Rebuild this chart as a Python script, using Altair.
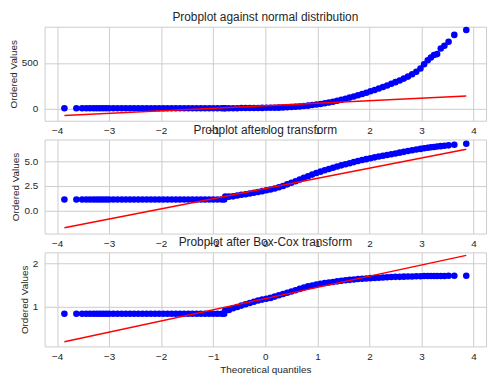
import altair as alt
import pandas as pd

# Theoretical quantiles
quantiles = [
    -3.86, -3.63, -3.52, -3.44, -3.37, -3.30, -3.24, -3.18, -3.12, -3.06, -3.00,
    -2.92, -2.84, -2.76, -2.68, -2.60, -2.52, -2.44, -2.36, -2.28, -2.20, -2.12,
    -2.04, -1.96, -1.88, -1.80, -1.72, -1.64, -1.56, -1.48, -1.40, -1.32, -1.24,
    -1.16, -1.08, -1.00, -0.92, -0.84, -0.79,
    -0.77, -0.70, -0.62, -0.54, -0.46, -0.38, -0.30, -0.22, -0.14, -0.06,
    0.02, 0.10, 0.18, 0.26, 0.34, 0.42, 0.50, 0.58, 0.66, 0.74, 0.82, 0.90,
    0.98, 1.06, 1.14, 1.22, 1.30, 1.38, 1.46, 1.54, 1.62, 1.70, 1.78, 1.86,
    1.94, 2.02, 2.10, 2.18, 2.26, 2.34, 2.42, 2.50, 2.58, 2.66, 2.74, 2.82,
    2.90, 2.98,
    3.05, 3.12, 3.18, 3.24, 3.30, 3.37, 3.44, 3.52, 3.63, 3.86,
]

# Ordered values, raw data
normal_vals = [
    3, 3, 3, 3, 3, 3, 3, 3, 3, 3, 3,
    3, 3, 3, 3, 3, 3, 3, 3, 3, 3, 3,
    3, 3, 3, 3, 3, 3, 3, 3, 3, 3, 3,
    3, 3, 3, 3, 3, 3,
    4, 4, 4, 4, 5, 5, 5, 6, 6, 7,
    8, 8, 9, 10, 12, 14, 16, 19, 23, 27, 32, 38,
    44, 50, 58, 66, 75, 85, 96, 108, 120, 133, 146, 160,
    174, 189, 204, 220, 237, 254, 272, 290, 309, 329, 351, 376,
    405, 440,
    486, 530, 560, 588, 598, 660, 690, 733, 809, 863,
]

# Ordered values after log transform
log_vals = [
    1.10, 1.10, 1.10, 1.10, 1.10, 1.10, 1.10, 1.10, 1.10, 1.10, 1.10,
    1.10, 1.10, 1.10, 1.10, 1.10, 1.10, 1.10, 1.10, 1.10, 1.10, 1.10,
    1.10, 1.10, 1.10, 1.10, 1.10, 1.10, 1.10, 1.10, 1.10, 1.10, 1.10,
    1.10, 1.10, 1.10, 1.10, 1.10, 1.10,
    1.39, 1.39, 1.42, 1.50, 1.58, 1.64, 1.71, 1.79, 1.87, 1.95,
    2.04, 2.12, 2.21, 2.34, 2.48, 2.64, 2.80, 2.96, 3.13, 3.30, 3.46, 3.63,
    3.79, 3.93, 4.07, 4.20, 4.33, 4.45, 4.57, 4.68, 4.79, 4.90, 5.01, 5.11,
    5.20, 5.29, 5.38, 5.46, 5.54, 5.62, 5.70, 5.78, 5.86, 5.94, 6.02, 6.10,
    6.17, 6.24,
    6.30, 6.36, 6.40, 6.44, 6.48, 6.52, 6.56, 6.60, 6.67, 6.77,
]

# Ordered values after Box-Cox transform
boxcox_vals = [
    0.83, 0.83, 0.83, 0.83, 0.83, 0.83, 0.83, 0.83, 0.83, 0.83, 0.83,
    0.83, 0.83, 0.83, 0.83, 0.83, 0.83, 0.83, 0.83, 0.83, 0.83, 0.83,
    0.83, 0.83, 0.83, 0.83, 0.83, 0.83, 0.83, 0.83, 0.83, 0.83, 0.83,
    0.83, 0.83, 0.83, 0.83, 0.83, 0.83,
    0.91, 0.92, 0.96, 0.99, 1.02, 1.05, 1.08, 1.11, 1.14, 1.16,
    1.18, 1.20, 1.23, 1.26, 1.29, 1.32, 1.35, 1.38, 1.41, 1.44, 1.47, 1.49,
    1.51, 1.53, 1.545, 1.56, 1.57, 1.585, 1.60, 1.61, 1.62, 1.63, 1.64, 1.645,
    1.65, 1.66, 1.665, 1.67, 1.675, 1.68, 1.685, 1.69, 1.69, 1.695, 1.70, 1.70,
    1.705, 1.705,
    1.71, 1.71, 1.71, 1.71, 1.712, 1.712, 1.712, 1.714, 1.714, 1.714,
]

# Fitted least-squares lines (end points)
line_x = [-3.86, 3.86]
normal_line = [-76, 138]
log_line = [-1.76, 6.20]
boxcox_line = [0.18, 2.19]

titles = [
    "Probplot against normal distribution",
    "Probplot after log transform",
    "Probplot after Box-Cox transform",
]
y_domains = [[-134, 899], [-2.36, 7.19], [0.07, 2.26]]
y_ticks = [[0, 500], [0.0, 2.5, 5.0], [1, 2]]
y_formats = ["d", ".1f", "d"]
x_ticks = [-4, -3, -2, -1, 0, 1, 2, 3, 4]

FONT = "Liberation Sans"
TEXT = "#262626"


def panel(vals, line_vals, title, domain, ticks, fmt, last):
    pts = pd.DataFrame({"q": quantiles, "v": vals})
    ln = pd.DataFrame({"q": line_x, "v": line_vals})
    if last:
        xaxis = alt.Axis(values=x_ticks, title="Theoretical quantiles", format="d")
    else:
        xaxis = alt.Axis(values=x_ticks, title=None, format="d")
    x = alt.X("q:Q", scale=alt.Scale(domain=[-4.24, 4.24], nice=False, zero=False), axis=xaxis)
    y = alt.Y("v:Q", scale=alt.Scale(domain=domain, nice=False, zero=False),
              axis=alt.Axis(values=ticks, format=fmt, title="Ordered Values"))
    p = alt.Chart(pts).mark_circle(size=44, color="#0000ff", opacity=1).encode(x=x, y=y)
    l = alt.Chart(ln).mark_line(color="#ff0000", strokeWidth=1.5).encode(x="q:Q", y="v:Q")
    return alt.layer(p, l).properties(
        width=446, height=95,
        title=alt.TitleParams(title, fontSize=12, font=FONT, fontWeight="normal", color=TEXT, offset=3),
    )


panels = [
    panel(normal_vals, normal_line, titles[0], y_domains[0], y_ticks[0], y_formats[0], False),
    panel(log_vals, log_line, titles[1], y_domains[1], y_ticks[1], y_formats[1], False),
    panel(boxcox_vals, boxcox_line, titles[2], y_domains[2], y_ticks[2], y_formats[2], True),
]

chart = alt.vconcat(*panels, spacing=19, bounds="flush").properties(
    padding={"left": -1, "top": 0, "right": 5, "bottom": 0}
).configure_view(
    stroke="#cccccc", strokeWidth=1
).configure_axis(
    grid=True, gridColor="#cccccc", gridWidth=1,
    domain=False, ticks=False,
    labelFont=FONT, labelFontSize=10, labelColor=TEXT,
    titleFont=FONT, titleFontSize=10, titleFontWeight="normal", titleColor=TEXT,
).configure_axisY(
    labelPadding=7, titlePadding=3
).configure_axisX(
    labelPadding=5, titlePadding=3
).configure_title(anchor="middle")

chart.save("out.html", embed_options={"renderer": "svg", "actions": False})
